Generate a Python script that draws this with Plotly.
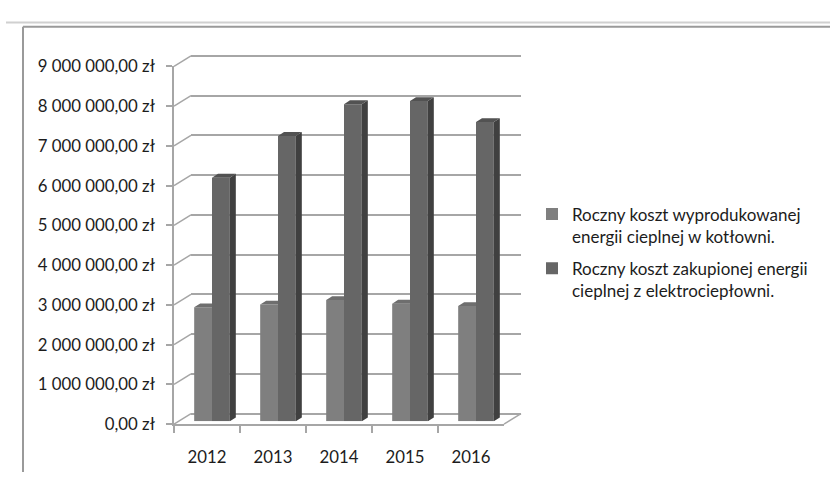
import plotly.graph_objects as go

# ---------------- data ----------------
categories = ["2012", "2013", "2014", "2015", "2016"]
series_names = [
    "Roczny koszt wyprodukowanej<br>energii cieplnej w kotłowni.",
    "Roczny koszt zakupionej energii<br>cieplnej z elektrociepłowni.",
]
produced_cost = [2870000, 2940000, 3050000, 2960000, 2900000]
purchased_cost = [6130000, 7180000, 7980000, 8060000, 7530000]
y_ticks = [0, 1000000, 2000000, 3000000, 4000000, 5000000, 6000000, 7000000, 8000000, 9000000]
y_ticktext = [f"{v:,.2f}".replace(",", " ").replace(".", ",") + " zł" for v in y_ticks]

# ---------------- geometry / style ----------------
W, H = 830, 482
Y_MAX = y_ticks[-1]
PLANE_H = 374          # pixel height of 0..Y_MAX
CAT_W = 66             # pixel width per category
N = len(categories)
FRONT = (174, 432)     # (left x, zero y) of the front plane
BARP = (179, 429)      # bar plane
BACK = (191, 421)      # back wall
BAR_W = 0.27           # bar width in category units
DEPTH_PX = (6, 4)      # bar depth offset in px
FONT = "Lato"
GRID_C = "#a6a6a6"
TXT_C = "#1c1c1c"
C1, C2 = "#7f7f7f", "#666666"
C1_TOP, C2_TOP, C2_SIDE = "#6e6e6e", "#525252", "#404040"
K = Y_MAX / PLANE_H    # value units per px


def px_x(x):
    return x / W


def px_y(y):
    return (H - y) / H


def x_dom(plane):
    return [px_x(plane[0]), px_x(plane[0] + CAT_W * N)]


def y_dom(plane, pad=0):
    return [px_y(plane[1] + pad), px_y(plane[1] - PLANE_H - pad)]


def y_rng(pad=0):
    return [-pad * K, Y_MAX + pad * K]


fig = go.Figure()

# back wall subplot (xy) - only gridlines
fig.add_trace(go.Scatter(x=[], y=[], xaxis="x", yaxis="y", showlegend=False))

# bars subplot (x3y3)
xi = list(range(N))
fig.add_trace(go.Bar(x=xi, y=produced_cost, width=BAR_W, offset=-BAR_W,
                     marker=dict(color=C1, line=dict(width=0)), name=series_names[0],
                     legendgroup="a", xaxis="x3", yaxis="y3", hoverinfo="skip"))
fig.add_trace(go.Bar(x=xi, y=purchased_cost, width=BAR_W, offset=0,
                     marker=dict(color=C2, line=dict(width=0)), name=series_names[1],
                     legendgroup="b", xaxis="x3", yaxis="y3", hoverinfo="skip"))

dx = DEPTH_PX[0] / CAT_W
dy = DEPTH_PX[1] * K


def poly_trace(xs, ys, color):
    return go.Scatter(x=xs, y=ys, mode="lines", fill="toself", fillcolor=color,
                      line=dict(width=0, color=color), xaxis="x3", yaxis="y3",
                      showlegend=False, hoverinfo="skip")


# light bar top faces (cut where the neighbouring dark bar starts)
tx, ty = [], []
for i, v in enumerate(produced_cost):
    l, r = i - BAR_W, i
    tx += [l, l + dx, r, r, None]
    ty += [v, v + dy, v + dy, v, None]
fig.add_trace(poly_trace(tx, ty, C1_TOP))

# dark bar side faces
sx, sy = [], []
for i, v in enumerate(purchased_cost):
    r = i + BAR_W
    sx += [r, r + dx, r + dx, r, None]
    sy += [0, dy, v + dy, v, None]
fig.add_trace(poly_trace(sx, sy, C2_SIDE))

# dark bar top faces
tx, ty = [], []
for i, v in enumerate(purchased_cost):
    l, r = i, i + BAR_W
    tx += [l, l + dx, r + dx, r, None]
    ty += [v, v + dy, v + dy, v, None]
fig.add_trace(poly_trace(tx, ty, C2_TOP))

# front axes subplot (x2y2)
fig.add_trace(go.Scatter(x=categories, y=[None] * N, xaxis="x2", yaxis="y2",
                         showlegend=False, hoverinfo="skip"))

# ---------------- decorations ----------------
shapes = []
for v in y_ticks:
    shapes.append(dict(type="line", xref="paper", yref="paper", layer="below",
                       x0=px_x(FRONT[0]), y0=px_y(FRONT[1] - v / K),
                       x1=px_x(BACK[0]), y1=px_y(BACK[1] - v / K),
                       line=dict(color=GRID_C, width=1.5)))
shapes.append(dict(type="line", xref="paper", yref="paper", layer="below",
                   x0=px_x(FRONT[0] + CAT_W * N), y0=px_y(FRONT[1]),
                   x1=px_x(BACK[0] + CAT_W * N), y1=px_y(BACK[1]),
                   line=dict(color=GRID_C, width=1.5)))
# page frame lines
shapes.append(dict(type="line", xref="paper", yref="paper", x0=px_x(6), x1=1,
                   y0=px_y(12), y1=px_y(12), line=dict(color="#d0d0d0", width=2)))
shapes.append(dict(type="line", xref="paper", yref="paper", x0=px_x(23), x1=1,
                   y0=px_y(16.5), y1=px_y(16.5), line=dict(color="#9a9a9a", width=2)))
shapes.append(dict(type="line", xref="paper", yref="paper", x0=px_x(23), x1=px_x(23),
                   y0=px_y(16.5), y1=0, line=dict(color="#9a9a9a", width=2)))

TICK_FONT = dict(family=FONT, size=16.8, color=TXT_C)

fig.update_layout(
    width=W, height=H,
    margin=dict(l=0, r=0, t=0, b=0, pad=0),
    paper_bgcolor="white", plot_bgcolor="rgba(0,0,0,0)",
    font=dict(family=FONT, size=16.8, color=TXT_C),
    barmode="overlay",
    showlegend=True,
    legend=dict(x=px_x(532), y=px_y(194), xanchor="left", yanchor="top",
                font=dict(family=FONT, size=17, color=TXT_C),
                tracegroupgap=7, valign="top", bgcolor="rgba(0,0,0,0)",
                itemclick=False, itemdoubleclick=False),
    shapes=shapes,
    # back wall
    xaxis=dict(domain=x_dom(BACK), range=[-0.5, N - 0.5], anchor="y",
               showgrid=False, zeroline=False, showticklabels=False, ticks="", showline=False),
    yaxis=dict(domain=y_dom(BACK, 2), range=y_rng(2), anchor="x",
               tickvals=y_ticks, showgrid=True, gridcolor=GRID_C, gridwidth=1.5,
               zeroline=False, showticklabels=False, ticks="", showline=False),
    # front axes
    xaxis2=dict(domain=x_dom(FRONT), type="category", categoryorder="array",
                categoryarray=categories, range=[-0.5, N - 0.5], anchor="y2",
                tickson="boundaries", ticks="outside", ticklen=7, tickcolor=GRID_C,
                tickwidth=1.5, showline=True, linecolor=GRID_C, linewidth=1.5,
                showgrid=False, zeroline=False, ticklabelstandoff=17,
                tickfont=TICK_FONT),
    yaxis2=dict(domain=y_dom(FRONT), range=y_rng(), anchor="x2",
                tickvals=y_ticks, ticktext=y_ticktext, ticks="outside", ticklen=6,
                tickcolor=GRID_C, tickwidth=1.5, showline=True, linecolor=GRID_C,
                linewidth=1.5, showgrid=False, zeroline=False, ticklabelstandoff=8,
                tickfont=TICK_FONT),
    # bar plane
    xaxis3=dict(domain=x_dom(BARP), range=[-0.5, N - 0.5], anchor="y3", visible=False),
    yaxis3=dict(domain=y_dom(BARP), range=y_rng(), anchor="x3", visible=False),
)

fig.write_html("out.html")
